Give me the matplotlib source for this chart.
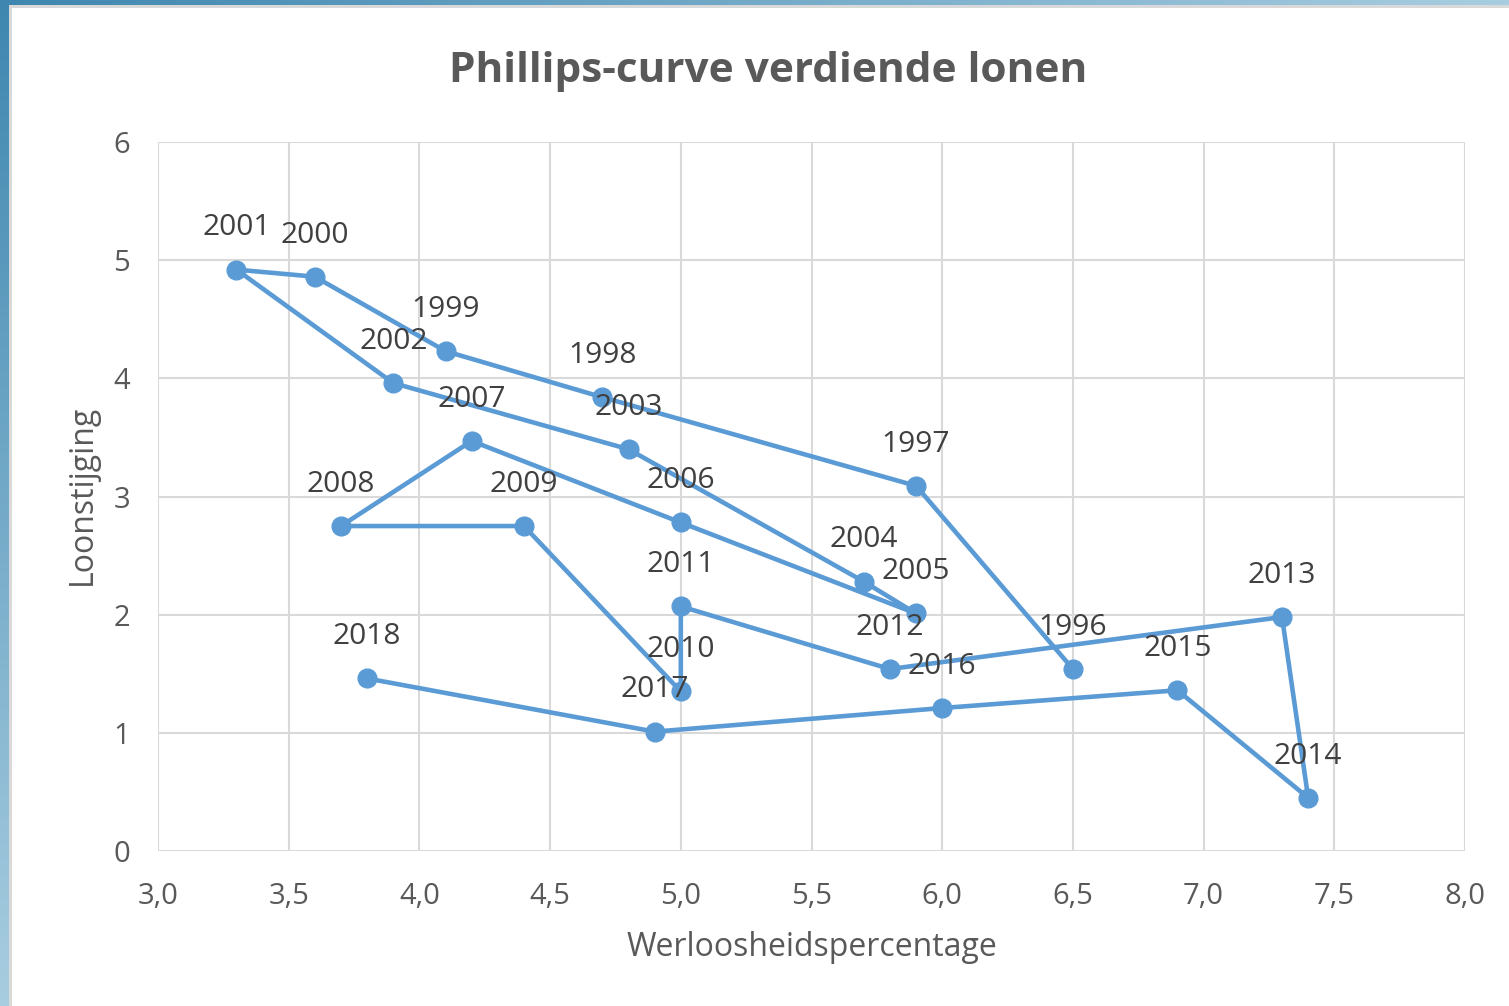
import numpy as np
import matplotlib.pyplot as plt
from matplotlib.patches import Rectangle

# data
years = ['1996', '1997', '1998', '1999', '2000', '2001', '2002', '2003', '2004',
         '2005', '2006', '2007', '2008', '2009', '2010', '2011', '2012', '2013',
         '2014', '2015', '2016', '2017', '2018']
werkloosheid = [6.5, 5.9, 4.7, 4.1, 3.6, 3.3, 3.9, 4.8, 5.7,
                5.9, 5.0, 4.2, 3.7, 4.4, 5.0, 5.0, 5.8, 7.3,
                7.4, 6.9, 6.0, 4.9, 3.8]
loonstijging = [1.54, 3.09, 3.84, 4.23, 4.86, 4.92, 3.96, 3.40, 2.28,
                2.01, 2.78, 3.47, 2.75, 2.75, 1.35, 2.07, 1.54, 1.98,
                0.45, 1.36, 1.21, 1.01, 1.46]

x_ticks = [3.0, 3.5, 4.0, 4.5, 5.0, 5.5, 6.0, 6.5, 7.0, 7.5, 8.0]
y_ticks = [0, 1, 2, 3, 4, 5, 6]

plt.rcParams['font.family'] = ['Open Sans', 'DejaVu Sans']

W, H = 1509, 1006
fig = plt.figure(figsize=(W / 100, H / 100), dpi=100)

# frame strips (blue gradient on left and top)
bg = fig.add_axes([0, 0, 1, 1], zorder=-10)
bg.axis('off')
c1 = np.array([0x3f, 0x87, 0xb0]) / 255
c2 = np.array([0xa8, 0xcd, 0xe0]) / 255
t = np.linspace(0, 1, 200)
grad_v = (c1[None, :] * (1 - t[:, None]) + c2[None, :] * t[:, None])[:, None, :]
grad_h = (c1[None, :] * (1 - t[:, None]) + c2[None, :] * t[:, None])[None, :, :]
bg.imshow(grad_v, extent=[0, 9, H, 0], aspect='auto')
bg.imshow(grad_h, extent=[0, W, 5, 0], aspect='auto')
bg.add_patch(Rectangle((9, 5), 3, H, color='#d9d9d9', lw=0))
bg.add_patch(Rectangle((9, 5), W, 3, color='#d9d9d9', lw=0))
bg.set_xlim(0, W)
bg.set_ylim(H, 0)

ax = fig.add_axes([158 / W, 1 - 851 / H, (1465 - 158) / W, (851 - 142) / H])
ax.plot(werkloosheid, loonstijging, color='#5b9bd5', lw=3.3, marker='o',
        markersize=13.5, zorder=3)
for yr, xv, yv in zip(years, werkloosheid, loonstijging):
    ax.annotate(yr, (xv, yv), xytext=(0, 30), textcoords='offset points',
                ha='center', va='center', fontsize=21.5, color='#404040', zorder=4)

ax.set_xlim(3, 8)
ax.set_ylim(0, 6)
ax.set_xticks(x_ticks)
ax.set_xticklabels([f'{v:.1f}'.replace('.', ',') for v in x_ticks])
ax.set_yticks(y_ticks)
ax.set_yticklabels([str(v) for v in y_ticks])
ax.grid(True, color='#d9d9d9', lw=1.5)
ax.set_axisbelow(True)
for s in ax.spines.values():
    s.set_visible(False)
ax.tick_params(length=0, labelsize=21, labelcolor='#595959')
ax.tick_params(axis='x', pad=22)
ax.tick_params(axis='y', pad=20)

fig.text(0.509, 0.929, 'Phillips-curve verdiende lonen', ha='center', va='center',
         fontsize=30.5, fontweight='bold', color='#595959')
fig.text(812 / W, 1 - 947 / H, 'Werloosheidspercentage', ha='center', va='center',
         fontsize=23, color='#595959')
fig.text(82 / W, 1 - 495 / H, 'Loonstijging', ha='center', va='center',
         fontsize=23, color='#595959', rotation=90)

fig.savefig('out.png', dpi=100)
